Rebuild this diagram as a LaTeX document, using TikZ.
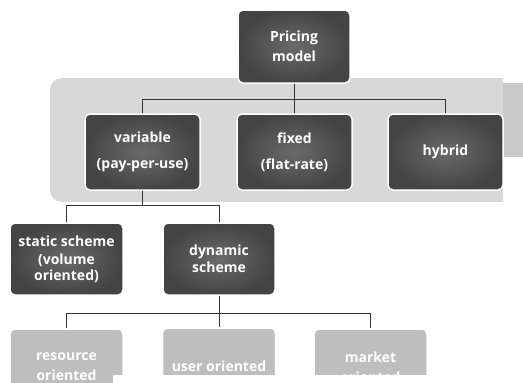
\documentclass[tikz,border=0pt]{standalone}
\usepackage{fontspec}
\setmainfont{Open Sans}
\usetikzlibrary{calc}
\definecolor{darkin}{HTML}{6A6A6A}
\definecolor{darkout}{HTML}{444444}
\definecolor{lightbox}{HTML}{BEBEBE}
\definecolor{bandgray}{HTML}{D8D8D8}
\definecolor{sidegray}{HTML}{C9C9C9}
\definecolor{linegray}{HTML}{333333}
\tikzset{
  darkbx/.style={rectangle, rounded corners=5pt, draw=white, line width=1.5pt,
    inner color=darkin, outer color=darkout, text=white,
    font=\bfseries\fontsize{14}{17}\selectfont, align=center, inner sep=0pt},
  lightbx/.style={rectangle, rounded corners=5pt, draw=white, line width=1.5pt,
    fill=lightbox, text=white,
    font=\bfseries\fontsize{14}{20}\selectfont, align=center, inner sep=0pt,
    minimum width=113pt, minimum height=76pt},
  conn/.style={draw=linegray, line width=0.8pt}
}
\begin{document}
\begin{tikzpicture}[x=1pt,y=-1pt]
\useasboundingbox (0,0) rectangle (523,383);
\clip (0,0) rectangle (523,383);
% band
\fill[bandgray] (62,78) -- (503,78) -- (503,202) -- (62,202) -- cycle;
\fill[bandgray,rounded corners=12pt] (50,78) rectangle (90,202);
\fill[sidegray] (503,83) rectangle (523,157);
% coordinates for buses
\coordinate (bus1) at (0,99);
\coordinate (bus2) at (0,205);
\coordinate (bus3) at (0,313);
% nodes
\node[darkbx, minimum width=112pt, minimum height=73pt, font=\bfseries\fontsize{14}{20}\selectfont] (pm) at (294,46.5) {Pricing\\model};
\node[darkbx, minimum width=115pt, minimum height=76pt, font=\bfseries\fontsize{14}{26}\selectfont] (var) at (142.5,152) {variable\\(pay-per-use)};
\node[darkbx, minimum width=115pt, minimum height=76pt, font=\bfseries\fontsize{14}{26}\selectfont] (fix) at (294.5,152) {fixed\\(flat-rate)};
\node[darkbx, minimum width=115pt, minimum height=76pt] (hyb) at (445.5,152) {hybrid};
\node[darkbx, minimum width=113pt, minimum height=72pt, font=\bfseries\fontsize{14}{21}\selectfont] (sta) at (66.5,259) {static scheme\\[-3pt](volume\\[-5pt]oriented)};
\node[darkbx, minimum width=112pt, minimum height=72pt, font=\bfseries\fontsize{14}{17}\selectfont] (dyn) at (219,259) {dynamic\\scheme};
\node[lightbx] (res) at (66.5,367) {resource\\oriented};
\node[lightbx] (usr) at (219,366) {user oriented};
\node[lightbx] (mkt) at (370.5,367) {market\\oriented};
% connectors
\draw[conn] (pm.south) -- (pm.south |- bus1);
\draw[conn] (var.north) -- (var.north |- bus1) -- (hyb.north |- bus1) -- (hyb.north);
\draw[conn] (fix.north) -- (fix.north |- bus1);
\draw[conn] (var.south) -- (var.south |- bus2);
\draw[conn] (sta.north) -- (sta.north |- bus2) -- (dyn.north |- bus2) -- (dyn.north);
\draw[conn] (dyn.south) -- (dyn.south |- bus3);
\draw[conn] (res.north) -- (res.north |- bus3) -- (mkt.north |- bus3) -- (mkt.north);
\draw[conn] (usr.north) -- (usr.north |- bus3);
% white cover
\fill[white] (113,375) rectangle (523,383);
\end{tikzpicture}
\end{document}
